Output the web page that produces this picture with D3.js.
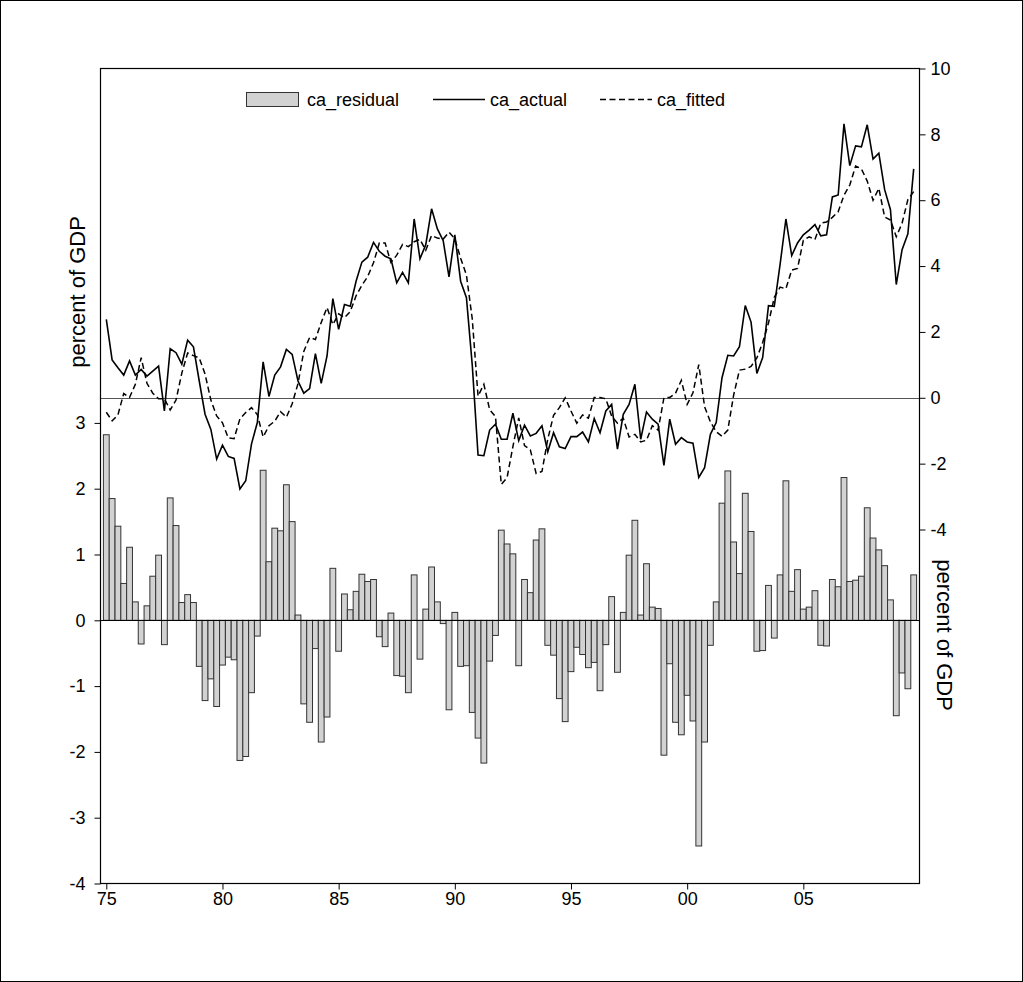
<!DOCTYPE html>
<html>
<head>
<meta charset="utf-8">
<script src="https://cdn.jsdelivr.net/npm/d3@7"></script>
<style>
  body { margin: 0; background: #fff; }
  svg { display: block; }
  text { font-family: Arial, "Liberation Sans", sans-serif; fill: #000; }
</style>
</head>
<body>
<svg id="chart" width="1023" height="982"></svg>
<script>
// Quarterly current account, percent of GDP, 1975Q1 - 2009Q4
const firstYear = 1975;
const nQuarters = 140;
const periods = d3.range(nQuarters).map(i => (firstYear + Math.floor(i / 4)) + "Q" + (i % 4 + 1));

const caActual = [
  2.38, 1.15, 0.91, 0.69, 1.12, 0.69, 0.86, 0.66, 0.81, 0.96,
  -0.40, 1.49, 1.37, 1.02, 1.75, 1.55, 0.51, -0.50, -0.96, -1.86,
  -1.44, -1.78, -1.84, -2.77, -2.52, -1.40, -0.75, 1.09, 0.04, 0.69,
  0.94, 1.47, 1.32, 0.51, 0.14, 0.28, 1.34, 0.44, 1.27, 3.01,
  2.08, 2.83, 2.78, 3.54, 4.12, 4.27, 4.72, 4.45, 4.30, 4.22,
  3.49, 3.81, 3.49, 5.43, 4.22, 4.65, 5.74, 5.13, 4.77, 3.67,
  4.95, 3.54, 3.04, 1.00, -1.74, -1.76, -0.98, -0.80, -1.26, -1.26,
  -0.47, -1.30, -0.83, -1.16, -1.08, -0.85, -1.64, -1.06, -1.49, -1.54,
  -1.18, -1.18, -1.04, -1.34, -0.63, -1.06, -0.40, -0.20, -1.56, -0.50,
  -0.20, 0.41, -1.26, -0.43, -0.65, -0.80, -2.05, -0.65, -1.41, -1.21,
  -1.34, -1.38, -2.42, -2.12, -1.11, -0.75, 0.61, 1.29, 1.27, 1.55,
  2.80, 2.30, 0.74, 1.22, 2.80, 2.78, 4.05, 5.43, 4.32, 4.70,
  4.95, 5.09, 5.26, 4.92, 4.95, 6.10, 6.16, 8.32, 7.05, 7.65,
  7.62, 8.29, 7.25, 7.43, 6.32, 5.71, 3.44, 4.50, 4.98, 6.95
];

const caFitted = [
  -0.44, -0.70, -0.52, 0.13, 0.01, 0.41, 1.22, 0.44, 0.14, -0.03,
  -0.03, -0.37, -0.07, 0.75, 1.36, 1.28, 1.21, 0.72, -0.07, -0.55,
  -0.76, -1.22, -1.24, -0.64, -0.45, -0.30, -0.51, -1.19, -0.85, -0.71,
  -0.42, -0.59, -0.18, 0.43, 1.41, 1.83, 1.77, 2.29, 2.74, 2.22,
  2.55, 2.43, 2.62, 3.10, 3.42, 3.68, 4.10, 4.70, 4.70, 4.11,
  4.33, 4.66, 4.59, 4.74, 4.81, 4.48, 4.93, 4.85, 4.82, 5.03,
  4.83, 4.24, 3.73, 2.40, 0.05, 0.41, -0.36, -0.57, -2.63, -2.42,
  -1.48, -0.61, -1.45, -1.58, -2.30, -2.24, -1.26, -0.53, -0.30, 0.00,
  -0.40, -0.77, -0.52, -0.62, 0.01, 0.01, -0.03, -0.56, -0.77, -0.62,
  -1.19, -1.11, -1.34, -1.29, -0.85, -0.98, 0.00, 0.01, 0.14, 0.53,
  -0.20, 0.15, 1.01, -0.27, -0.73, -1.03, -1.17, -0.98, 0.08, 0.84,
  0.87, 0.95, 1.21, 1.68, 2.27, 3.05, 3.36, 3.31, 3.88, 3.93,
  4.78, 4.89, 4.81, 5.30, 5.34, 5.48, 5.65, 6.15, 6.46, 7.04,
  6.95, 6.58, 6.00, 6.36, 5.49, 5.40, 4.89, 5.30, 6.02, 6.26
];

const caResidual = [
  2.82, 1.85, 1.43, 0.56, 1.11, 0.28, -0.36, 0.22, 0.67, 0.99,
  -0.37, 1.86, 1.44, 0.27, 0.39, 0.27, -0.70, -1.22, -0.89, -1.31,
  -0.68, -0.56, -0.60, -2.13, -2.07, -1.10, -0.24, 2.28, 0.89, 1.40,
  1.36, 2.06, 1.50, 0.08, -1.27, -1.55, -0.43, -1.85, -1.47, 0.79,
  -0.47, 0.40, 0.16, 0.44, 0.70, 0.59, 0.62, -0.25, -0.40, 0.11,
  -0.84, -0.85, -1.10, 0.69, -0.59, 0.17, 0.81, 0.28, -0.05, -1.36,
  0.12, -0.70, -0.69, -1.40, -1.79, -2.17, -0.62, -0.23, 1.37, 1.16,
  1.01, -0.69, 0.62, 0.42, 1.22, 1.39, -0.38, -0.53, -1.19, -1.54,
  -0.78, -0.41, -0.52, -0.72, -0.64, -1.07, -0.37, 0.36, -0.79, 0.12,
  0.99, 1.52, 0.08, 0.86, 0.20, 0.18, -2.05, -0.66, -1.55, -1.74,
  -1.14, -1.53, -3.43, -1.85, -0.38, 0.28, 1.78, 2.27, 1.19, 0.71,
  1.93, 1.35, -0.47, -0.46, 0.53, -0.27, 0.69, 2.12, 0.44, 0.77,
  0.17, 0.20, 0.45, -0.38, -0.39, 0.62, 0.51, 2.17, 0.59, 0.61,
  0.67, 1.71, 1.25, 1.07, 0.83, 0.31, -1.45, -0.80, -1.04, 0.69
];

const yearTicks = [1975, 1980, 1985, 1990, 1995, 2000, 2005];
const yearTickLabels = ["75", "80", "85", "90", "95", "00", "05"];
const leftTicks = [-4, -3, -2, -1, 0, 1, 2, 3];
const rightTicks = [-4, -2, 0, 2, 4, 6, 8, 10];
const seriesNames = ["ca_residual", "ca_actual", "ca_fitted"];

// ---- layout ----
const svg = d3.select("#chart");
const W = 1023, H = 982;
const plot = { left: 100.5, right: 919.5, top: 68.5, bottom: 883.5 };

svg.append("rect")
  .attr("x", 0.5).attr("y", 0.5).attr("width", W - 1).attr("height", H - 1)
  .attr("fill", "#fff").attr("stroke", "#000").attr("stroke-width", 1);

// ---- scales ----
const x = d3.scaleLinear().domain([-1, nQuarters]).range([plot.left, plot.right]);
const yLeft = d3.scaleLinear().domain([-4, 8.386]).range([plot.bottom, plot.top]);
const yRight = d3.scaleLinear().domain([-14.75, 10]).range([plot.bottom, plot.top]);
const step = x(1) - x(0);
const quarterIndex = year => (year - firstYear) * 4;

// ---- residual bars (left axis) ----
svg.append("g")
  .selectAll("rect")
  .data(caResidual)
  .join("rect")
  .attr("x", (d, i) => x(i) - step / 2)
  .attr("width", step)
  .attr("y", d => yLeft(Math.max(0, d)))
  .attr("height", d => Math.abs(yLeft(d) - yLeft(0)))
  .attr("fill", "#d2d2d2")
  .attr("stroke", "#333")
  .attr("stroke-width", 1);

// zero line for residuals
svg.append("line")
  .attr("x1", plot.left).attr("x2", plot.right)
  .attr("y1", Math.round(yLeft(0)) + 0.5).attr("y2", Math.round(yLeft(0)) + 0.5)
  .attr("stroke", "#000").attr("stroke-width", 1.2);

// zero line for actual / fitted
svg.append("line")
  .attr("x1", plot.left).attr("x2", plot.right)
  .attr("y1", Math.round(yRight(0)) + 0.5).attr("y2", Math.round(yRight(0)) + 0.5)
  .attr("stroke", "#555").attr("stroke-width", 1.2);

// ---- actual & fitted lines (right axis) ----
const line = d3.line().x((d, i) => x(i)).y(d => yRight(d));

svg.append("path")
  .datum(caFitted)
  .attr("d", line)
  .attr("fill", "none")
  .attr("stroke", "#000")
  .attr("stroke-width", 1.5)
  .attr("stroke-dasharray", "6,3.5");

svg.append("path")
  .datum(caActual)
  .attr("d", line)
  .attr("fill", "none")
  .attr("stroke", "#000")
  .attr("stroke-width", 1.6)
  .attr("stroke-linejoin", "miter");

// ---- frame ----
svg.append("rect")
  .attr("x", plot.left).attr("y", plot.top)
  .attr("width", plot.right - plot.left).attr("height", plot.bottom - plot.top)
  .attr("fill", "none").attr("stroke", "#000").attr("stroke-width", 1.2);

// ---- axes ----
const axisFont = 18;
const plainInt = d => String(d);

const leftAxis = svg.append("g")
  .attr("transform", `translate(${plot.left},0)`)
  .call(d3.axisLeft(yLeft).tickValues(leftTicks).tickSize(6).tickPadding(9).tickFormat(plainInt));

const rightAxis = svg.append("g")
  .attr("transform", `translate(${plot.right},0)`)
  .call(d3.axisRight(yRight).tickValues(rightTicks).tickSize(6).tickPadding(5).tickFormat(plainInt));

const bottomAxis = svg.append("g")
  .attr("transform", `translate(0,${plot.bottom})`)
  .call(d3.axisBottom(x)
    .tickValues(yearTicks.map(quarterIndex))
    .tickSize(6).tickPadding(3)
    .tickFormat((d, i) => yearTickLabels[i]));

[leftAxis, rightAxis, bottomAxis].forEach(g => {
  g.select(".domain").remove();
  g.selectAll(".tick line").attr("stroke", "#000").attr("stroke-width", 1);
  g.selectAll(".tick text")
    .attr("font-size", axisFont)
    .attr("font-family", "Arial, 'Liberation Sans', sans-serif")
    .attr("fill", "#000");
});

// ---- axis titles ----
svg.append("text")
  .attr("transform", `translate(85,292) rotate(-90)`)
  .attr("text-anchor", "middle")
  .attr("font-size", 22)
  .text("percent of GDP");

svg.append("text")
  .attr("transform", `translate(937,635) rotate(90)`)
  .attr("text-anchor", "middle")
  .attr("font-size", 22)
  .text("percent of GDP");

// ---- legend ----
const legend = svg.append("g").attr("font-size", 18);
legend.append("rect")
  .attr("x", 246.5).attr("y", 92.5).attr("width", 52).attr("height", 14)
  .attr("fill", "#d2d2d2").attr("stroke", "#333");
legend.append("text").attr("x", 307).attr("y", 106).text(seriesNames[0]);

legend.append("line")
  .attr("x1", 433).attr("x2", 485).attr("y1", 99.5).attr("y2", 99.5)
  .attr("stroke", "#000").attr("stroke-width", 1.6);
legend.append("text").attr("x", 490).attr("y", 106).text(seriesNames[1]);

legend.append("line")
  .attr("x1", 600).attr("x2", 652).attr("y1", 99.5).attr("y2", 99.5)
  .attr("stroke", "#000").attr("stroke-width", 1.5).attr("stroke-dasharray", "6,3.5");
legend.append("text").attr("x", 657).attr("y", 106).text(seriesNames[2]);
</script>
</body>
</html>
